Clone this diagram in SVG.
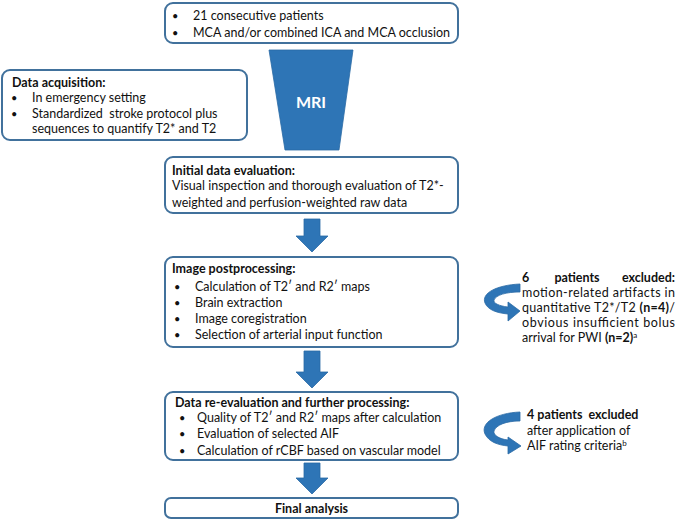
<svg xmlns="http://www.w3.org/2000/svg" width="680" height="522" viewBox="0 0 680 522">
<style>
.box{fill:#fff;stroke:#41719C;stroke-width:2}
.blue{fill:#2E75B6;stroke:#2A6AA5;stroke-width:0.8}
text{font-family:Lato,"Open Sans","Liberation Sans",sans-serif;font-size:12.5px;fill:#111}
.b{font-weight:bold}
.bu{font-size:11px}
.mri{font-weight:bold;font-size:16px;fill:#fff}
</style>
<rect width="680" height="522" fill="#fff"/>
<g id="patients">
<rect class="box" x="165" y="3" width="293" height="40" rx="8"/>
<text class="bu" x="172" y="19.5">•</text><text x="193" y="19.5">21 consecutive patients</text>
<text class="bu" x="172" y="36.5">•</text><text x="193" y="36.5">MCA and/or combined ICA and MCA occlusion</text>
</g>
<g id="mri">
<path class="blue" d="M269 50 L353 50 L339 150 L285 150 Z"/>
<text class="mri" x="311" y="107.5" text-anchor="middle">MRI</text>
</g>
<g id="acquisition">
<rect class="box" x="2" y="70" width="245" height="70" rx="8"/>
<text class="b" x="12" y="86.5">Data acquisition:</text>
<text class="bu" x="11" y="101.5">•</text><text x="32" y="101.5">In emergency setting</text>
<text class="bu" x="11" y="117.5">•</text><text x="32" y="117.5" xml:space="preserve">Standardized  stroke protocol plus</text>
<text x="32" y="132.5">sequences to quantify T2* and T2</text>
</g>
<g id="initial">
<rect class="box" x="165" y="157" width="293" height="56" rx="8"/>
<text class="b" x="172" y="174.5">Initial data evaluation:</text>
<text x="172" y="190">Visual inspection and thorough evaluation of T2*-</text>
<text x="172" y="206.5">weighted and perfusion-weighted raw data</text>
</g>
<g id="postprocessing">
<rect class="box" x="165" y="257" width="293" height="90" rx="8"/>
<text class="b" x="172" y="272.5">Image postprocessing:</text>
<text class="bu" x="174" y="290.5">•</text><text x="195" y="290.5">Calculation of T2′ and R2′ maps</text>
<text class="bu" x="174" y="306.5">•</text><text x="195" y="306.5">Brain extraction</text>
<text class="bu" x="174" y="322.5">•</text><text x="195" y="322.5">Image coregistration</text>
<text class="bu" x="174" y="338.5">•</text><text x="195" y="338.5">Selection of arterial input function</text>
</g>
<g id="reevaluation">
<rect class="box" x="165" y="392" width="293" height="68" rx="8"/>
<text class="b" x="175" y="406.5">Data re-evaluation and further processing:</text>
<text class="bu" x="179" y="421.5">•</text><text x="197" y="421.5">Quality of T2′ and R2′ maps after calculation</text>
<text class="bu" x="179" y="438">•</text><text x="197" y="438">Evaluation of selected AIF</text>
<text class="bu" x="179" y="454.5">•</text><text x="197" y="454.5">Calculation of rCBF based on vascular model</text>
</g>
<g id="final">
<rect class="box" x="165" y="498" width="293" height="20" rx="6"/>
<text class="b" x="311.5" y="513" text-anchor="middle">Final analysis</text>
</g>
<g id="exclusion1">
<text class="b" x="522" y="281.5">6</text>
<text class="b" x="577" y="281.5" text-anchor="middle">patients</text>
<text class="b" x="675" y="281.5" text-anchor="end">excluded:</text>
<text x="522" y="296.5" textLength="153">motion-related artifacts in</text>
<text x="522" y="311.5" textLength="153">quantitative T2*/T2 <tspan class="b">(n=4)</tspan>/</text>
<text x="522" y="326.5" textLength="153">obvious insufficient bolus</text>
<text x="522" y="341.5">arrival for PWI <tspan class="b">(n=2)</tspan><tspan font-size="8" dy="-4">a</tspan></text>
</g>
<g id="exclusion2">
<text class="b" x="527" y="418.5" xml:space="preserve">4 patients  excluded</text>
<text x="527" y="434.5">after application of</text>
<text x="527" y="449.5">AIF rating criteria<tspan font-size="8" dy="-4">b</tspan></text>
</g>
<g id="connectors">
<path class="blue" d="M304 219 L320 219 L320 236 L328 236 L312 252 L296 236 L304 236 Z"/>
<path class="blue" d="M304 351 L320 351 L320 372 L328 372 L312 388 L296 372 L304 372 Z"/>
<path class="blue" d="M304 463 L320 463 L320 478 L328 478 L312 494 L296 478 L304 478 Z"/>
<path class="blue" d="M520 284 C497 285 481 293 485 303 C488 310 497 313 508 314 L508 321 L520 311 L508 302 L508 307 C499 306 493 303 494 300 C496 295 506 292 520 292 Z"/>
<path class="blue" d="M520 412 C496 413 480 423 485 434 C489 442 498 445 508 446 L508 454 L521 446 L508 437 L508 440 C499 439 493 435 494 431 C496 425 506 421 520 421 Z"/>
</g>
</svg>
